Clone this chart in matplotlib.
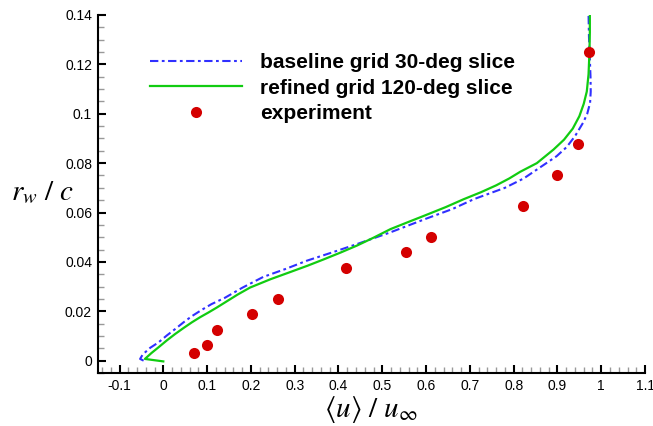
import matplotlib
matplotlib.use('Agg')
import matplotlib.pyplot as plt
from matplotlib.ticker import MultipleLocator, FormatStrFormatter

plt.rcParams['font.family'] = 'Liberation Sans'
plt.rcParams['mathtext.fontset'] = 'stix'
plt.rcParams['axes.unicode_minus'] = False

# baseline grid 30-deg slice
base_u = [-0.045, -0.053, -0.047, -0.03, -0.011, 0.008, 0.027, 0.046, 0.065, 0.088, 0.11,
          0.141, 0.18, 0.228, 0.28, 0.328, 0.385, 0.442, 0.519, 0.6, 0.66, 0.709, 0.78,
          0.823, 0.853, 0.898, 0.921, 0.94, 0.959, 0.968, 0.9745, 0.976, 0.9755, 0.974,
          0.972, 0.971]
base_r = [0.0, 0.0007, 0.0025, 0.0052, 0.0074, 0.0102, 0.0128, 0.0155, 0.018, 0.0206, 0.0229,
          0.0255, 0.0295, 0.0339, 0.0372, 0.0405, 0.0438, 0.0472, 0.052, 0.0575, 0.0614,
          0.0654, 0.0700, 0.0738, 0.0774, 0.0828, 0.0865, 0.0909, 0.0965, 0.100, 0.1044,
          0.109, 0.115, 0.122, 0.131, 0.14]

# refined grid 120-deg slice
ref_u = [0.0, -0.042, -0.027, -0.011, 0.008, 0.027, 0.046, 0.065, 0.084, 0.103, 0.122,
         0.141, 0.17, 0.198, 0.245, 0.29, 0.33, 0.366, 0.405, 0.442, 0.48, 0.519, 0.56,
         0.6, 0.645, 0.686, 0.725, 0.76, 0.79, 0.815, 0.853, 0.891, 0.915, 0.935, 0.950,
         0.960, 0.967, 0.971, 0.973, 0.974, 0.974]
ref_r = [-0.0003, 0.0007, 0.0031, 0.0054, 0.0082, 0.0108, 0.0132, 0.0155, 0.0176, 0.0195,
         0.0215, 0.0236, 0.0268, 0.0296, 0.0330, 0.0359, 0.0385, 0.041, 0.0438, 0.0466,
         0.0498, 0.0533, 0.0562, 0.059, 0.0622, 0.0654, 0.0682, 0.071, 0.0738, 0.0765,
         0.080, 0.0855, 0.0895, 0.094, 0.099, 0.104, 0.109, 0.116, 0.1245, 0.133, 0.14]

# experiment
exp_u = [0.070, 0.100, 0.123, 0.203, 0.262, 0.418, 0.555, 0.612, 0.822, 0.898, 0.948, 0.971]
exp_r = [0.0031, 0.0063, 0.0124, 0.0189, 0.025, 0.0375, 0.044, 0.050, 0.0626, 0.075, 0.0877, 0.125]

fig = plt.figure(figsize=(6.53, 4.26), dpi=100)
ax = fig.add_axes([0.1495, 0.1244, 0.8383, 0.8404])

ax.plot(base_u, base_r, color='#3030ff', lw=1.5, dashes=(4, 1.67, 1.33, 1.67),
        label='baseline grid 30-deg slice')
ax.plot(ref_u, ref_r, color='#11cc11', lw=1.6, label='refined grid 120-deg slice')
ax.plot(exp_u, exp_r, 'o', color='#d40000', ms=8, mec='none', label='experiment')

ax.set_xlim(-0.15, 1.1)
ax.set_ylim(-0.005, 0.14)

for s in ['top', 'right']:
    ax.spines[s].set_visible(False)
for s in ['left', 'bottom']:
    ax.spines[s].set_linewidth(1.5)

ax.xaxis.set_major_locator(MultipleLocator(0.1))
ax.xaxis.set_minor_locator(MultipleLocator(0.02))
ax.yaxis.set_major_locator(MultipleLocator(0.02))
ax.yaxis.set_minor_locator(MultipleLocator(0.005))
ax.xaxis.set_major_formatter(FormatStrFormatter('%g'))
ax.yaxis.set_major_formatter(FormatStrFormatter('%g'))
ax.tick_params(which='major', direction='in', length=6, width=1.5, labelsize=10, pad=4)
ax.tick_params(which='minor', direction='in', length=4, width=1, color='#999999')

ax.set_xlabel(r'$\langle u\rangle\ /\ u_{\infty}$', fontsize=21, va='top')
ax.xaxis.set_label_coords(0.5, -0.058)
ax.set_ylabel(r'$r_w\ /\ c$', fontsize=21, rotation=0, ha='center', va='center')
ax.yaxis.set_label_coords(-0.101, 0.506)

ax.legend(loc='upper left', bbox_to_anchor=(0.062, 0.945), frameon=False, handlelength=4.4,
          numpoints=1, labelspacing=0.3, handletextpad=0.86,
          prop={'weight': 'bold', 'size': 15})

fig.savefig('out.png', dpi=100)
